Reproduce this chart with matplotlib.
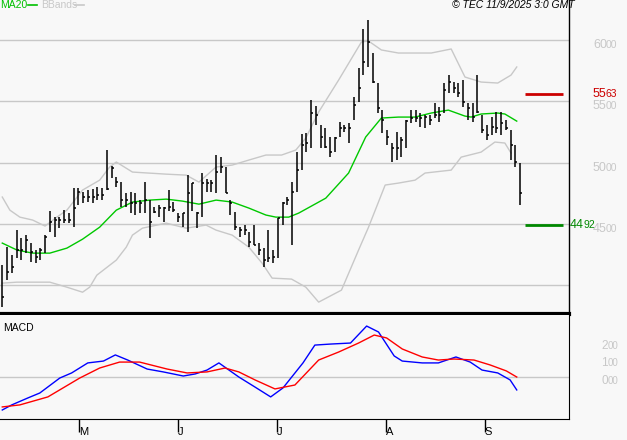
#!/usr/bin/env python3
# bar chart with MA20, Bollinger bands and MACD panel

import matplotlib.pyplot as plt
from matplotlib import transforms
import numpy as np

plt.rcParams["font.family"] = "Liberation Sans"

# daily bars: high, low, close
highs = [4162, 4309, 4244, 4448, 4383, 4407, 4342, 4285, 4301, 4407,
         4603, 4554, 4554, 4611, 4587, 4791, 4791, 4758, 4775, 4783,
         4799, 4791, 5102, 4971, 4881, 4840, 4750, 4758, 4750, 4693,
         4840, 4693, 4636, 4652, 4636, 4775, 4677, 4587, 4587, 4897,
         4832, 4595, 4914, 4865, 4856, 5061, 5044, 4963, 4693, 4595,
         4472, 4489, 4432, 4489, 4342, 4301, 4448, 4285, 4546, 4677,
         4717, 4840, 5085, 5232, 5240, 5510, 5461, 5306, 5281, 5208,
         5208, 5330, 5306, 5322, 5535, 5771, 6090, 6164, 5894, 5649,
         5428, 5265, 5159, 5249, 5208, 5347, 5428, 5428, 5404, 5388,
         5388, 5486, 5453, 5649, 5714, 5657, 5649, 5673, 5486, 5486,
         5714, 5388, 5306, 5371, 5412, 5412, 5347, 5265, 5142, 4995]
lows = [3819, 4039, 4097, 4219, 4203, 4260, 4187, 4178, 4203, 4260,
        4432, 4391, 4464, 4505, 4505, 4472, 4652, 4668, 4677, 4668,
        4693, 4693, 4775, 4873, 4799, 4636, 4636, 4587, 4570, 4587,
        4587, 4383, 4587, 4554, 4513, 4603, 4595, 4513, 4472, 4432,
        4603, 4464, 4554, 4758, 4758, 4750, 4914, 4750, 4570, 4448,
        4391, 4407, 4309, 4325, 4244, 4146, 4187, 4178, 4219, 4489,
        4652, 4325, 4758, 4938, 5085, 5118, 5306, 5118, 5118, 5044,
        5085, 5208, 5249, 5159, 5347, 5494, 5714, 5780, 5649, 5404,
        5240, 5142, 5004, 5020, 5044, 5118, 5322, 5330, 5289, 5281,
        5306, 5363, 5330, 5404, 5567, 5567, 5535, 5453, 5347, 5330,
        5404, 5240, 5183, 5224, 5240, 5224, 5265, 5020, 4963, 4652]
closes = [3900, 4105, 4146, 4285, 4285, 4366, 4268, 4227, 4285, 4391,
          4513, 4530, 4530, 4530, 4530, 4628, 4758, 4717, 4717, 4717,
          4734, 4734, 4783, 4954, 4840, 4693, 4693, 4669, 4669, 4669,
          4693, 4513, 4595, 4628, 4628, 4636, 4611, 4554, 4587, 4750,
          4832, 4587, 4832, 4832, 4832, 4922, 4963, 4750, 4669, 4472,
          4448, 4448, 4350, 4325, 4285, 4203, 4219, 4227, 4546, 4669,
          4693, 4758, 4938, 5142, 5159, 5404, 5388, 5208, 5126, 5085,
          5200, 5281, 5281, 5281, 5469, 5608, 5820, 5984, 5657, 5445,
          5347, 5208, 5118, 5118, 5183, 5338, 5363, 5363, 5363, 5371,
          5347, 5388, 5388, 5592, 5657, 5608, 5567, 5494, 5445, 5371,
          5412, 5265, 5224, 5289, 5281, 5322, 5281, 5142, 5004, 4750]

# MA20 (session index, price)
ma_x = [0, 3.1, 6.4, 10, 13.6, 16.9, 20.5, 24, 27.4, 31, 34.5, 37.9, 41.4,
        45, 48.4, 51.9, 55.5, 57.6, 60.3, 62.4, 63.9, 68.1, 72.9, 76.5,
        79.8, 83.4, 86.9, 90.3, 93.9, 97.4, 98.7, 100.8, 104.3, 105.8, 108.3]
ma_y = [4342, 4285, 4260, 4260, 4301, 4374, 4472, 4611, 4677, 4693, 4701,
        4685, 4660, 4693, 4677, 4628, 4571, 4554, 4554, 4587, 4619, 4709,
        4914, 5208, 5363, 5371, 5371, 5404, 5428, 5379, 5371, 5396, 5404,
        5396, 5338]

# Bollinger bands
up_x = [0, 1.6, 3.7, 6.4, 9, 11.5, 13.6, 16.9, 20.5, 22.6, 24, 27.4, 34.5,
        38.7, 41.4, 45, 48.4, 51.9, 55.5, 58.8, 61.8, 63.9, 66.6, 70.8,
        75.6, 77.1, 79.8, 83.4, 90.3, 94.5, 97.4, 100.8, 104.3, 107.1, 108.3]
up_y = [4718, 4611, 4554, 4530, 4481, 4554, 4611, 4775, 4856, 4963, 5004,
        4922, 4905, 4897, 4840, 4963, 4979, 5020, 5061, 5061, 5102, 5200,
        5412, 5673, 5984, 5992, 5919, 5894, 5894, 5927, 5698, 5657, 5649,
        5714, 5780]
lo_x = [0, 3.1, 10, 13.6, 16.9, 18.4, 19.9, 24, 26.1, 27.4, 29.5, 34.5,
        38.7, 42.9, 45, 48.4, 51.9, 54.7, 56.8, 60.9, 63.9, 66.6, 71.4, 75,
        77.1, 80.6, 83.4, 86.9, 89, 94.5, 96.6, 100.8, 103.7, 105.8, 107.1]
lo_y = [4015, 4023, 4023, 3982, 3941, 3982, 4080, 4203, 4309, 4407, 4464,
        4505, 4464, 4489, 4448, 4407, 4309, 4178, 4056, 4048, 3982, 3860,
        3958, 4285, 4472, 4816, 4832, 4856, 4914, 4938, 5044, 5085, 5167,
        5159, 5077]

# MACD and signal
macd_x = [0, 2, 5.4, 7.9, 12.1, 14.6, 18, 21.3, 23.8, 26.4, 30.5, 33.9,
          38.1, 40.6, 43.1, 45.6, 49.8, 53.2, 56.5, 59.1, 63.3, 65.8, 69.1,
          73.3, 76.7, 79.2, 82.5, 84.2, 88.4, 91.8, 95.5, 98.5, 101, 104.3,
          106.9, 108.3]
macd_y = [-196, -166, -125, -96, -8, 22, 81, 92, 128, 98, 45, 28, 4, 16, 39,
          81, -2, -61, -119, -66, 81, 186, 192, 198, 298, 263, 122, 92, 81,
          81, 116, 86, 39, 22, -19, -78]
sig_x = [0, 3.7, 9.6, 16.3, 20.5, 24.7, 28.9, 34.7, 38.9, 43.1, 46.9, 49.8,
         53.2, 57.4, 61.6, 66.6, 70.8, 75, 78.3, 80.9, 84.2, 88.4, 91.8,
         95.1, 99.3, 102.7, 106.1, 108.3]
sig_y = [-178, -166, -119, -8, 51, 86, 86, 45, 22, 28, 51, 28, -19, -72, -49,
         98, 145, 198, 245, 228, 163, 116, 98, 104, 98, 69, 34, -2]

month_pos = [16.1, 37, 57.8, 80.7, 101.6]
month_lab = ["M", "J", "J", "A", "S"]

resistance = 5563
support = 4492

BG = "#f8f8f8"
GRID = "#c8c8c8"
W, H = 627, 440


def two_size(fig, trans, x, y, label, color, big=9, small=7.5, gap=13, n=2):
    # price labels: leading digits big, last two small
    fig.text(x / W, y, label[:n], transform=trans, color=color,
             fontsize=big, va="center", ha="left")
    fig.text((x + gap) / W, y, label[n:], transform=trans, color=color,
             fontsize=small, va="center", ha="left")


def main():
    fig = plt.figure(figsize=(W / 100, H / 100), dpi=100, facecolor=BG)
    ax = fig.add_axes([0, 1 - 314 / H, 569 / W, 314 / H], facecolor=BG)
    ax2 = fig.add_axes([0, 1 - 419 / H, 569 / W, 104 / H], facecolor=BG)

    xl = (-0.48, 119.3)
    idx = np.arange(len(closes))

    # price panel
    for v in range(4000, 6001, 500):
        ax.axhline(v, color=GRID, lw=1, zorder=0)
    ax.plot(up_x, up_y, color=GRID, lw=1)
    ax.plot(lo_x, lo_y, color=GRID, lw=1)
    ax.plot(ma_x, ma_y, color="#00c800", lw=1)
    ax.vlines(idx, lows, highs, color="black", lw=1.1)
    ax.hlines(closes, idx, idx + 0.45, color="black", lw=1.1)
    ax.hlines(resistance, 110, 118.1, color="#cc0000", lw=2)
    ax.hlines(support, 110, 118.1, color="#008800", lw=2)
    ax.set_xlim(*xl)
    ax.set_ylim(3763, 6327)
    ax.set_xticks([])
    ax.set_yticks([])
    for s in ("top", "left"):
        ax.spines[s].set_visible(False)
    ax.spines["right"].set_linewidth(1)
    ax.spines["bottom"].set_linewidth(3)

    tr = transforms.blended_transform_factory(fig.transFigure, ax.transData)
    for v in range(4500, 6001, 500):
        two_size(fig, tr, 593, v - 41, str(v), GRID)
    two_size(fig, tr, 593, resistance, str(resistance), "#cc0000")
    two_size(fig, tr, 570, support, str(support), "#008800")

    # MACD panel
    ax2.axhline(0, color=GRID, lw=1)
    ax2.plot(macd_x, macd_y, color="#0000ff", lw=1)
    ax2.plot(sig_x, sig_y, color="#ff0000", lw=1)
    ax2.set_xlim(*xl)
    ax2.set_ylim(-249, 363)
    ax2.set_yticks([])
    ax2.spines["top"].set_visible(False)
    ax2.spines["left"].set_visible(False)
    ax2.set_xticks(month_pos, month_lab)
    ax2.tick_params(axis="x", length=9, width=1, pad=-3, labelsize=8)
    for lab in ax2.get_xticklabels():
        lab.set_ha("left")
    ax2.text(0.005, 0.85, "MACD", transform=ax2.transAxes, fontsize=7.5)
    tr2 = transforms.blended_transform_factory(fig.transFigure, ax2.transData)
    for v, lab in ((180, "200"), (81, "100"), (-25, "000")):
        two_size(fig, tr2, 601, v, lab, GRID, big=8.5, small=7, gap=6.5, n=1)

    # header
    fig.text(0.5 / W, 1 - 5 / H, "MA20", color="#00c000", fontsize=7.5,
             va="center")
    fig.add_artist(plt.Line2D([28 / W, 37 / W], [1 - 5 / H] * 2,
                              color="#00c000", lw=1.2))
    fig.text(41 / W, 1 - 5 / H, "BBands", color=GRID, fontsize=7.5,
             va="center")
    fig.add_artist(plt.Line2D([75 / W, 84 / W], [1 - 5 / H] * 2,
                              color=GRID, lw=1.2))
    fig.text(575 / W, 1 - 5 / H, "© TEC 11/9/2025 3:0 GMT", fontsize=7.5,
             style="italic", ha="right", va="center")

    fig.savefig("out.png", dpi=100, facecolor=BG)


if __name__ == "__main__":
    main()
